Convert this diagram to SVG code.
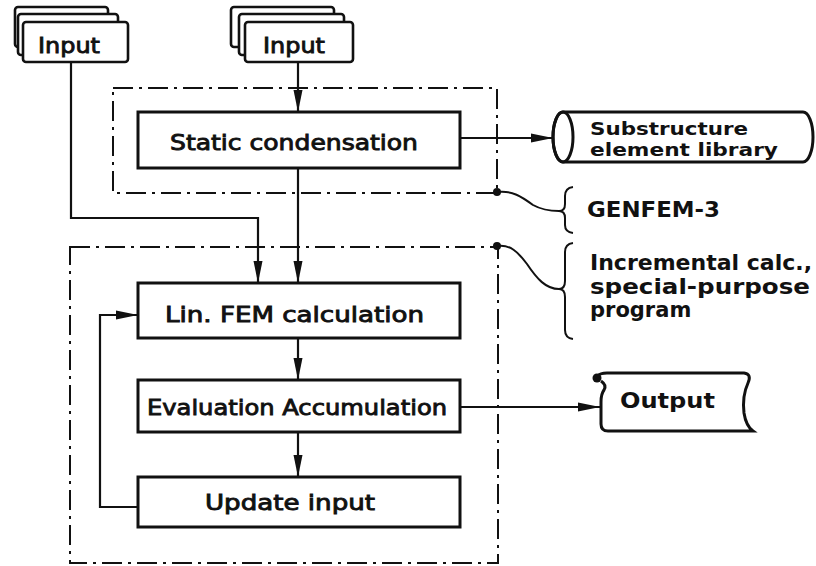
<svg xmlns="http://www.w3.org/2000/svg" width="816" height="566" viewBox="0 0 816 566">
<style>
.box{fill:#fff;stroke:#111;stroke-width:3}
.sheet{fill:#fff;stroke:#111;stroke-width:2.6}
.btxt{font-family:"DejaVu Sans",sans-serif;font-size:22px;fill:#111;stroke:#111;stroke-width:0.9}
.lbl{font-family:"DejaVu Sans",sans-serif;font-weight:bold;font-size:21px;fill:#111}
.cyl{font-family:"DejaVu Sans",sans-serif;font-weight:bold;font-size:18px;fill:#111}
.conn{fill:none;stroke:#111;stroke-width:2.2}
.dash{fill:none;stroke:#111;stroke-width:2;stroke-dasharray:20 6 3 6}
.lead{fill:none;stroke:#111;stroke-width:2}
</style>
<defs>
<marker id="arr" markerUnits="userSpaceOnUse" markerWidth="22" markerHeight="10" refX="22" refY="5" orient="auto">
<path d="M0,0.5 L22,5 L0,9.5 Z" fill="#111"/>
</marker>
</defs>

<g id="group-genfem">
<rect class="dash" x="113" y="88" width="384" height="105"/>
</g>
<g id="group-incremental">
<rect class="dash" x="70" y="247" width="428" height="316"/>
</g>

<g id="connectors">
<path class="conn" d="M298,62 V112" marker-end="url(#arr)"/>
<path class="conn" d="M71,62 V218 H258 V283" marker-end="url(#arr)"/>
<path class="conn" d="M298,168 V283" marker-end="url(#arr)"/>
<path class="conn" d="M460,138 H553" marker-end="url(#arr)"/>
<path class="conn" d="M298,338 V380" marker-end="url(#arr)"/>
<path class="conn" d="M298,432 V477" marker-end="url(#arr)"/>
<path class="conn" d="M460,407 H600" marker-end="url(#arr)"/>
<path class="conn" d="M138,507 H100 V315 H138" marker-end="url(#arr)"/>
<circle cx="497" cy="192" r="4" fill="#111"/>
<circle cx="497" cy="246" r="4" fill="#111"/>
<path class="lead" d="M497,192 C512,190 522,197 533,205 C542,210 550,211 559,211"/>
<path class="lead" d="M497,246 C510,244 518,252 527,264 C537,279 546,289 559,289"/>
</g>

<g id="input-1">
<rect class="sheet" x="15" y="7" width="93" height="40" rx="3"/>
<rect class="sheet" x="18" y="14" width="100" height="41" rx="3"/>
<rect class="sheet" x="23" y="22" width="105" height="40" rx="3"/>
<text class="btxt" x="38" y="53" textLength="62" lengthAdjust="spacingAndGlyphs">Input</text>
</g>

<g id="input-2">
<rect class="sheet" x="231" y="7" width="103" height="40" rx="3"/>
<rect class="sheet" x="239" y="14" width="105" height="41" rx="3"/>
<rect class="sheet" x="245" y="22" width="108" height="40" rx="3"/>
<text class="btxt" x="263" y="53" textLength="62" lengthAdjust="spacingAndGlyphs">Input</text>
</g>

<g id="static-condensation">
<rect class="box" x="138" y="112" width="322" height="56"/>
<text class="btxt" x="170" y="150" textLength="248" lengthAdjust="spacingAndGlyphs">Static  condensation</text>
</g>

<g id="substructure-library">
<path class="box" d="M563,112 L803,112 A10,25 0 0 1 803,162 L563,162 A10,25 0 0 1 563,112 Z"/>
<ellipse cx="563" cy="137" rx="10" ry="25" fill="none" stroke="#111" stroke-width="3"/>
<text class="cyl" x="590" y="135" textLength="158" lengthAdjust="spacingAndGlyphs">Substructure</text>
<text class="cyl" x="590" y="156" textLength="188" lengthAdjust="spacingAndGlyphs">element library</text>
</g>

<g id="genfem-label">
<path class="lead" d="M573,187 Q565,188 565,196 V204 Q565,211 559,211 Q565,211 565,218 V225 Q565,232 573,233"/>
<text class="lbl" x="587" y="217" textLength="133" lengthAdjust="spacingAndGlyphs">GENFEM-3</text>
</g>

<g id="incremental-label">
<path class="lead" d="M573,243 Q565,244 565,252 V281 Q565,289 559,289 Q565,289 565,297 V330 Q565,338 573,339"/>
<text class="lbl" x="590" y="270" textLength="222" lengthAdjust="spacingAndGlyphs">Incremental calc.,</text>
<text class="lbl" x="590" y="294" textLength="220" lengthAdjust="spacingAndGlyphs">special-purpose</text>
<text class="lbl" x="590" y="317">program</text>
</g>

<g id="lin-fem">
<rect class="box" x="138" y="283" width="322" height="55"/>
<text class="btxt" x="165" y="322" textLength="259" lengthAdjust="spacingAndGlyphs">Lin. FEM calculation</text>
</g>

<g id="evaluation-accumulation">
<rect class="box" x="138" y="380" width="322" height="52"/>
<text class="btxt" x="147" y="415" textLength="300" lengthAdjust="spacingAndGlyphs">Evaluation Accumulation</text>
</g>

<g id="update-input">
<rect class="box" x="138" y="477" width="322" height="50"/>
<text class="btxt" x="205" y="510" textLength="170" lengthAdjust="spacingAndGlyphs">Update  input</text>
</g>

<g id="output">
<path class="box" d="M598,376 Q600,373 607,373 L744,373 Q752,374 748,383 Q742,396 744,413 Q746,426 753,431 L608,431 Q601,431 601,424 L601,402 Q601,394 604,390 Q607,385 601,381"/>
<circle cx="597" cy="378" r="4.5" fill="#111"/>
<text class="lbl" x="620" y="408" textLength="95" lengthAdjust="spacingAndGlyphs">Output</text>
</g>
</svg>
